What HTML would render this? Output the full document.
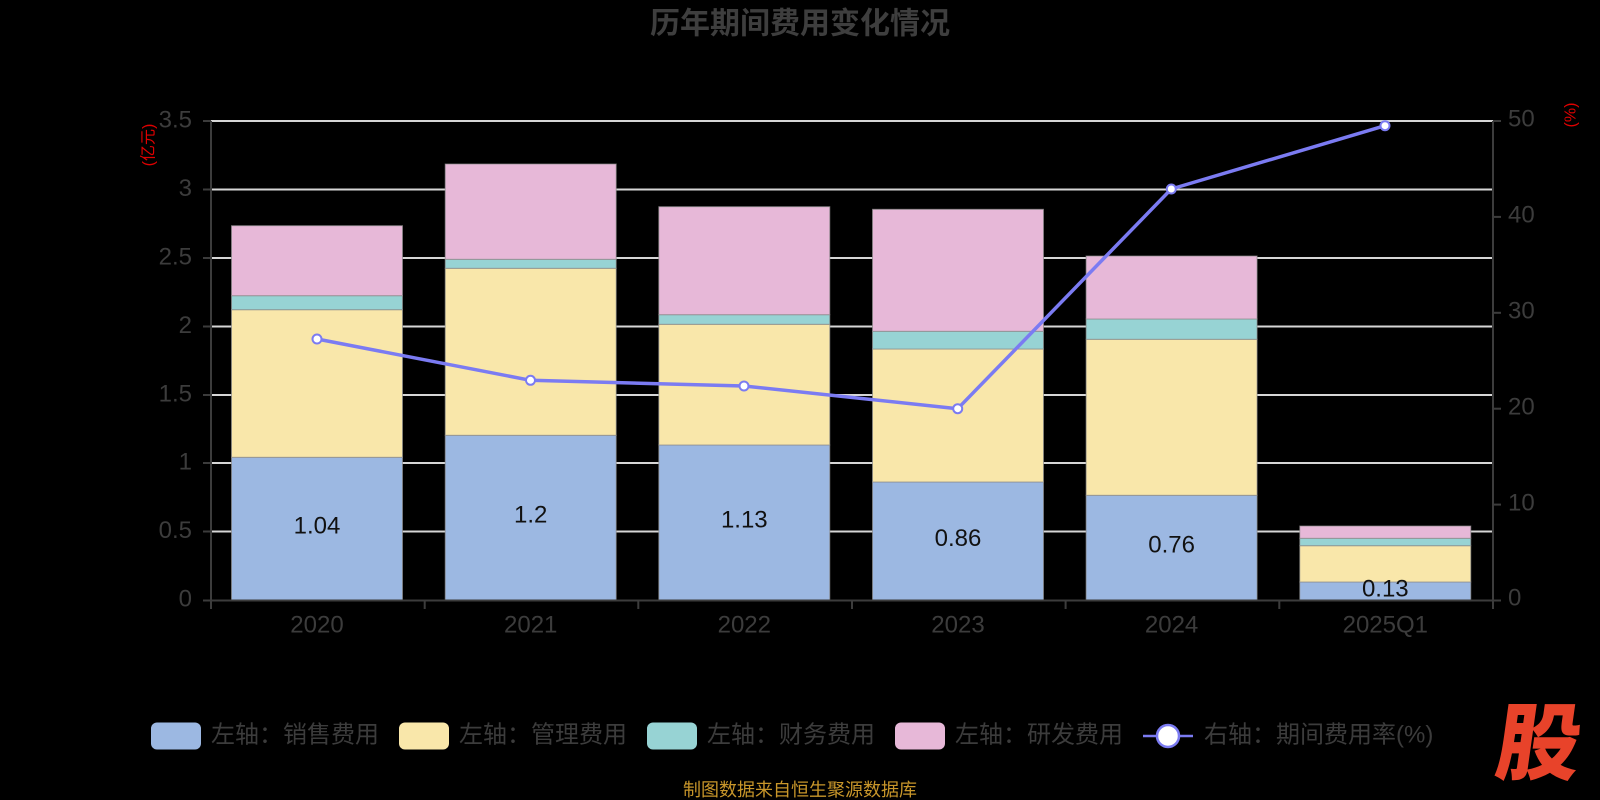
<!DOCTYPE html>
<html><head><meta charset="utf-8"><style>
html,body{margin:0;padding:0;background:#000;}
svg{display:block;font-family:"Liberation Sans","Noto Sans CJK SC",sans-serif;}
</style></head><body>
<svg width="1600" height="800" viewBox="0 0 1600 800" xmlns="http://www.w3.org/2000/svg">
<rect width="1600" height="800" fill="#000"/>
<text x="800" y="24" text-anchor="middle" dominant-baseline="central" font-size="30" font-weight="bold" fill="#3e3e3e" font-family="'Liberation Sans','Noto Sans CJK SC',sans-serif">历年期间费用变化情况</text>

<!-- grid -->
<g stroke="#d6d6d6" stroke-width="2">
<line x1="211" y1="121" x2="1493" y2="121"/>
<line x1="211" y1="189.5" x2="1493" y2="189.5"/>
<line x1="211" y1="258" x2="1493" y2="258"/>
<line x1="211" y1="326.5" x2="1493" y2="326.5"/>
<line x1="211" y1="395" x2="1493" y2="395"/>
<line x1="211" y1="463" x2="1493" y2="463"/>
<line x1="211" y1="531.5" x2="1493" y2="531.5"/>
</g>

<!-- left axis labels -->
<g font-size="24" fill="#3c3c3c" text-anchor="end" dominant-baseline="central">
<text x="192" y="120">3.5</text>
<text x="192" y="188.5">3</text>
<text x="192" y="257">2.5</text>
<text x="192" y="325.5">2</text>
<text x="192" y="394">1.5</text>
<text x="192" y="462">1</text>
<text x="192" y="530.5">0.5</text>
<text x="192" y="599">0</text>
</g>
<g stroke="#3c3c3c" stroke-width="2">
<line x1="211" y1="121" x2="211" y2="601"/>
<line x1="203" y1="121" x2="211" y2="121"/>
<line x1="203" y1="189.5" x2="211" y2="189.5"/>
<line x1="203" y1="258" x2="211" y2="258"/>
<line x1="203" y1="326.5" x2="211" y2="326.5"/>
<line x1="203" y1="395" x2="211" y2="395"/>
<line x1="203" y1="463" x2="211" y2="463"/>
<line x1="203" y1="531.5" x2="211" y2="531.5"/>
<line x1="203" y1="600.5" x2="211" y2="600.5"/>
<!-- right axis -->
<line x1="1493" y1="121" x2="1493" y2="601"/>
<line x1="1493" y1="121" x2="1501" y2="121"/>
<line x1="1493" y1="216.9" x2="1501" y2="216.9"/>
<line x1="1493" y1="312.8" x2="1501" y2="312.8"/>
<line x1="1493" y1="408.7" x2="1501" y2="408.7"/>
<line x1="1493" y1="504.6" x2="1501" y2="504.6"/>
<line x1="1493" y1="600.5" x2="1501" y2="600.5"/>
</g>
<g font-size="24" fill="#3c3c3c" text-anchor="start" dominant-baseline="central">
<text x="1508" y="119">50</text>
<text x="1508" y="215">40</text>
<text x="1508" y="311">30</text>
<text x="1508" y="407">20</text>
<text x="1508" y="503">10</text>
<text x="1508" y="598">0</text>
</g>
<text transform="translate(149,145) rotate(-90)" text-anchor="middle" dominant-baseline="central" font-size="16" fill="#e00000">(亿元)</text>
<text transform="translate(1571,115) rotate(-90)" text-anchor="middle" dominant-baseline="central" font-size="16" fill="#e00000">(%)</text>

<!-- bars -->
<g stroke="#8a8a8a" stroke-width="1" stroke-opacity="0.7">
<!-- 2020 -->
<rect x="231.5" y="457.3" width="171" height="143.2" fill="#9cb8e2"/>
<rect x="231.5" y="309.7" width="171" height="147.6" fill="#f9e7aa"/>
<rect x="231.5" y="295.7" width="171" height="14" fill="#97d3d4"/>
<rect x="231.5" y="225.7" width="171" height="70" fill="#e7b8d8"/>
<!-- 2021 -->
<rect x="445.2" y="435.3" width="171" height="165.2" fill="#9cb8e2"/>
<rect x="445.2" y="268.3" width="171" height="167" fill="#f9e7aa"/>
<rect x="445.2" y="259.3" width="171" height="9" fill="#97d3d4"/>
<rect x="445.2" y="164" width="171" height="95.3" fill="#e7b8d8"/>
<!-- 2022 -->
<rect x="658.8" y="445" width="171" height="155.5" fill="#9cb8e2"/>
<rect x="658.8" y="324.3" width="171" height="120.7" fill="#f9e7aa"/>
<rect x="658.8" y="314.7" width="171" height="9.6" fill="#97d3d4"/>
<rect x="658.8" y="206.7" width="171" height="108" fill="#e7b8d8"/>
<!-- 2023 -->
<rect x="872.5" y="482" width="171" height="118.5" fill="#9cb8e2"/>
<rect x="872.5" y="349" width="171" height="133" fill="#f9e7aa"/>
<rect x="872.5" y="331.3" width="171" height="17.7" fill="#97d3d4"/>
<rect x="872.5" y="209.3" width="171" height="122" fill="#e7b8d8"/>
<!-- 2024 -->
<rect x="1086.1" y="495.3" width="171" height="105.2" fill="#9cb8e2"/>
<rect x="1086.1" y="339.3" width="171" height="156" fill="#f9e7aa"/>
<rect x="1086.1" y="319" width="171" height="20.3" fill="#97d3d4"/>
<rect x="1086.1" y="256" width="171" height="63" fill="#e7b8d8"/>
<!-- 2025Q1 -->
<rect x="1299.8" y="582" width="171" height="18.5" fill="#9cb8e2"/>
<rect x="1299.8" y="545.7" width="171" height="36.3" fill="#f9e7aa"/>
<rect x="1299.8" y="538.3" width="171" height="7.4" fill="#97d3d4"/>
<rect x="1299.8" y="526" width="171" height="12.3" fill="#e7b8d8"/>
</g>

<!-- bar labels -->
<g font-size="24" fill="#111" text-anchor="middle" dominant-baseline="central">
<text x="317" y="526">1.04</text>
<text x="530.7" y="515">1.2</text>
<text x="744.3" y="520">1.13</text>
<text x="958" y="538.5">0.86</text>
<text x="1171.6" y="545">0.76</text>
<text x="1385.3" y="589">0.13</text>
</g>

<!-- x axis -->
<g stroke="#3c3c3c" stroke-width="2">
<line x1="210" y1="600.5" x2="1494" y2="600.5"/>
<line x1="211" y1="600.5" x2="211" y2="609"/>
<line x1="424.7" y1="600.5" x2="424.7" y2="609"/>
<line x1="638.3" y1="600.5" x2="638.3" y2="609"/>
<line x1="852" y1="600.5" x2="852" y2="609"/>
<line x1="1065.6" y1="600.5" x2="1065.6" y2="609"/>
<line x1="1279.3" y1="600.5" x2="1279.3" y2="609"/>
<line x1="1493" y1="600.5" x2="1493" y2="609"/>
</g>
<g font-size="24" fill="#3c3c3c" text-anchor="middle" dominant-baseline="central">
<text x="317" y="625">2020</text>
<text x="530.7" y="625">2021</text>
<text x="744.3" y="625">2022</text>
<text x="958" y="625">2023</text>
<text x="1171.6" y="625">2024</text>
<text x="1385.3" y="625">2025Q1</text>
</g>

<!-- line -->
<polyline points="317,339 530.5,380.3 744,386 957.7,408.7 1171.3,189 1385,125.7" fill="none" stroke="#7b7bf2" stroke-width="3.5" stroke-linejoin="round"/>
<g fill="#fff" stroke="#7b7bf2" stroke-width="2">
<circle cx="317" cy="339" r="4.5"/>
<circle cx="530.5" cy="380.3" r="4.5"/>
<circle cx="744" cy="386" r="4.5"/>
<circle cx="957.7" cy="408.7" r="4.5"/>
<circle cx="1171.3" cy="189" r="4.5"/>
<circle cx="1385" cy="125.7" r="4.5"/>
</g>

<!-- legend -->
<rect x="151" y="722.5" width="50" height="27" rx="6" fill="#9cb8e2"/>
<rect x="399" y="722.5" width="50" height="27" rx="6" fill="#f9e7aa"/>
<rect x="647" y="722.5" width="50" height="27" rx="6" fill="#97d3d4"/>
<rect x="895" y="722.5" width="50" height="27" rx="6" fill="#e7b8d8"/>
<line x1="1143" y1="736" x2="1193" y2="736" stroke="#7b7bf2" stroke-width="2.5"/>
<circle cx="1168" cy="736" r="11" fill="#fff" stroke="#7b7bf2" stroke-width="2.5"/>
<g font-size="24" fill="#3c3c3c" dominant-baseline="central">
<text x="211" y="735">左轴：销售费用</text>
<text x="459" y="735">左轴：管理费用</text>
<text x="707" y="735">左轴：财务费用</text>
<text x="955" y="735">左轴：研发费用</text>
<text x="1204" y="735">右轴：期间费用率(%)</text>
</g>

<text x="800" y="790" text-anchor="middle" dominant-baseline="central" font-size="18" fill="#c8962a">制图数据来自恒生聚源数据库</text>

<text transform="translate(1535,773) skewX(-8)" text-anchor="middle" font-size="84" font-weight="900" fill="#e8432a" font-family="'Noto Sans CJK SC','WenQuanYi Zen Hei',sans-serif">股</text>
</svg>
</body></html>
